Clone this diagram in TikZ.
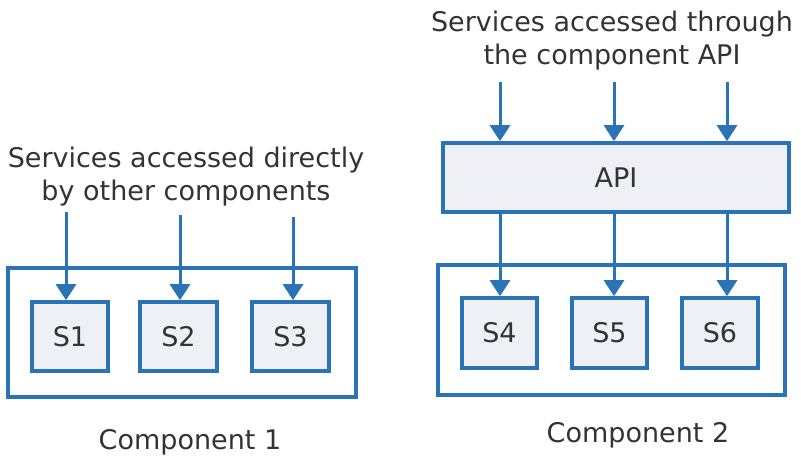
\documentclass[tikz,border=0pt]{standalone}
\usepackage{fontspec}
\setmainfont{DejaVu Sans}
\usetikzlibrary{arrows.meta}
\definecolor{lineblue}{HTML}{2B73B7}
\definecolor{boxfill}{HTML}{EEF0F5}
\definecolor{txt}{HTML}{333333}
\tikzset{
  sbox/.style={draw=lineblue, line width=3.6pt, fill=boxfill, inner sep=0pt, text=txt, font=\fontsize{27}{27}\selectfont},
  outer/.style={draw=lineblue, line width=3.6pt, inner sep=0pt},
  arr/.style={draw=lineblue, line width=3pt, -{Triangle[width=20pt,length=16pt]}},
  lbl/.style={text=txt, align=center, font=\fontsize{27}{33}\selectfont, inner sep=0pt},
}
\begin{document}
\begin{tikzpicture}[x=1pt,y=-1pt]
\useasboundingbox (0,0) rectangle (801,463);
% component 1
\node[outer, minimum width=348pt, minimum height=129pt] (c1) at (182,332.5) {};
\node[sbox, minimum width=76pt, minimum height=69pt] (s1) at (70,336.5) {S1};
\node[sbox, minimum width=77pt, minimum height=69pt] (s2) at (178.5,336.5) {S2};
\node[sbox, minimum width=77pt, minimum height=69pt] (s3) at (290.5,336.5) {S3};
\node[lbl] (t1) at (186,176.5) {Services accessed directly\\by other components};
\coordinate (a1) at (66,212);
\coordinate (a2) at (180,215);
\coordinate (a3) at (293,217);
\draw[arr] (a1) -- (a1 |- s1.north);
\draw[arr] (a2) -- (a2 |- s2.north);
\draw[arr] (a3) -- (a3 |- s3.north);
\node[lbl] (k1) at (190,442) {Component 1};
% component 2
\node[lbl] (t2) at (612,40.5) {Services accessed through\\the component API};
\node[sbox, minimum width=346pt, minimum height=69pt] (api) at (616,177.5) {API};
\node[outer, minimum width=347pt, minimum height=130pt] (c2) at (611.5,330) {};
\node[sbox, minimum width=75pt, minimum height=70pt] (s4) at (499.5,333) {S4};
\node[sbox, minimum width=75pt, minimum height=70pt] (s5) at (609.5,333) {S5};
\node[sbox, minimum width=76pt, minimum height=70pt] (s6) at (720,333) {S6};
\coordinate (b1) at (500,82);
\coordinate (b2) at (614,82);
\coordinate (b3) at (727,82);
\draw[arr] (b1) -- (b1 |- api.north);
\draw[arr] (b2) -- (b2 |- api.north);
\draw[arr] (b3) -- (b3 |- api.north);
\draw[arr] (b1 |- api.south) -- (b1 |- s4.north);
\draw[arr] (b2 |- api.south) -- (b2 |- s5.north);
\draw[arr] (b3 |- api.south) -- (b3 |- s6.north);
\node[lbl] (k2) at (638,435) {Component 2};
\end{tikzpicture}
\end{document}
